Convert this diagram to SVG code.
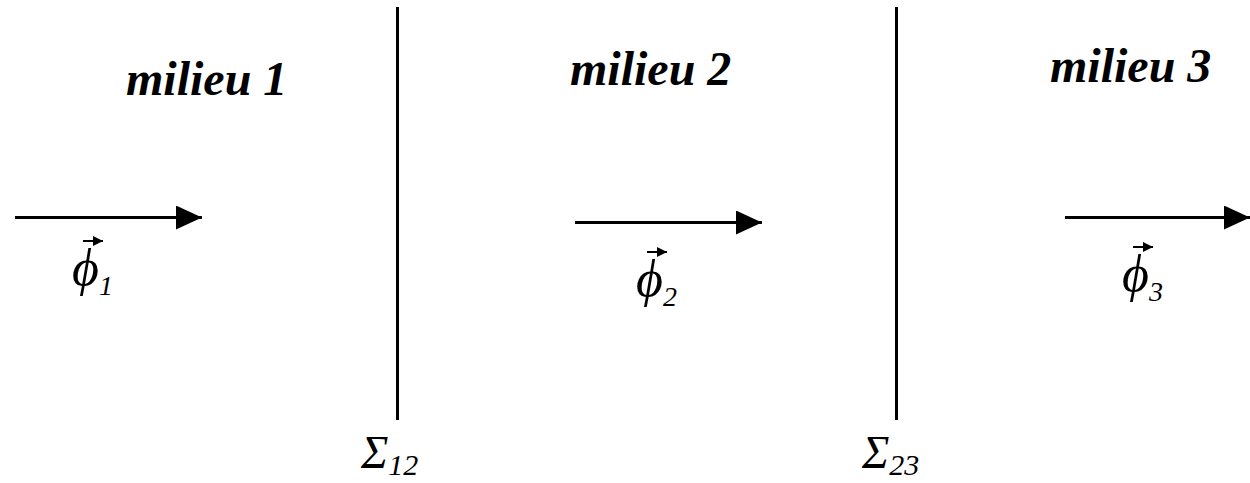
<svg xmlns="http://www.w3.org/2000/svg" width="1250" height="483" viewBox="0 0 1250 483">
<defs>
<marker id="ah" markerWidth="10" markerHeight="10" refX="10" refY="5" orient="auto" markerUnits="userSpaceOnUse" viewBox="0 0 10 10">
<path d="M0,0 L10,5 L0,10 Z" fill="#000"/>
</marker>
<marker id="big" markerWidth="26" markerHeight="24" refX="26" refY="12" orient="auto" markerUnits="userSpaceOnUse" viewBox="0 0 26 24">
<path d="M0,0 L26,12 L0,24 Z" fill="#000"/>
</marker>
</defs>
<style>
.ttl{font-family:"Liberation Serif","Times New Roman",serif;font-weight:bold;font-style:italic;font-size:48px;fill:#000}
.sig{font-family:"Liberation Serif","Times New Roman",serif;font-style:italic;font-size:46px;fill:#000}
.phi{font-family:"Liberation Serif","Times New Roman",serif;font-style:italic;font-size:52px;fill:#000}
.sub{font-family:"Liberation Serif","Times New Roman",serif;font-style:italic;font-size:30px;fill:#000}
.sb2{font-family:"Liberation Serif","Times New Roman",serif;font-style:italic;font-size:28px;fill:#000}
.flux{stroke:#000;stroke-width:3;fill:none}
.vec{stroke:#000;stroke-width:2;fill:none}
.wall{stroke:#000;stroke-width:3}
</style>
<g id="interfaces">
<g id="sigma12">
<line class="wall" x1="397.5" y1="7" x2="397.5" y2="420"/>
<text x="361" y="468"><tspan class="sig">Σ</tspan><tspan class="sub" dy="7">12</tspan></text>
</g>
<g id="sigma23">
<line class="wall" x1="896.5" y1="7" x2="896.5" y2="420"/>
<text x="862" y="468"><tspan class="sig">Σ</tspan><tspan class="sub" dy="7">23</tspan></text>
</g>
</g>
<g id="milieu1">
<text class="ttl" x="126" y="95">milieu 1</text>
</g>
<g id="milieu2">
<text class="ttl" x="570" y="85">milieu 2</text>
</g>
<g id="milieu3">
<text class="ttl" x="1050" y="82">milieu 3</text>
</g>
<g id="connectors">
<line class="flux" x1="15" y1="217.5" x2="202" y2="217.5" marker-end="url(#big)"/>
<line class="flux" x1="575" y1="222.5" x2="762" y2="222.5" marker-end="url(#big)"/>
<line class="flux" x1="1065" y1="217.5" x2="1250" y2="217.5" marker-end="url(#big)"/>
</g>
<g id="phi1">
<line class="vec" x1="83" y1="241" x2="103" y2="241" marker-end="url(#ah)"/>
<text x="72" y="285"><tspan class="phi">ϕ</tspan><tspan class="sb2" dy="10">1</tspan></text>
</g>
<g id="phi2">
<line class="vec" x1="647" y1="252" x2="667" y2="252" marker-end="url(#ah)"/>
<text x="636" y="296"><tspan class="phi">ϕ</tspan><tspan class="sb2" dy="10">2</tspan></text>
</g>
<g id="phi3">
<line class="vec" x1="1133" y1="247" x2="1153" y2="247" marker-end="url(#ah)"/>
<text x="1122" y="291"><tspan class="phi">ϕ</tspan><tspan class="sb2" dy="10">3</tspan></text>
</g>
</svg>
